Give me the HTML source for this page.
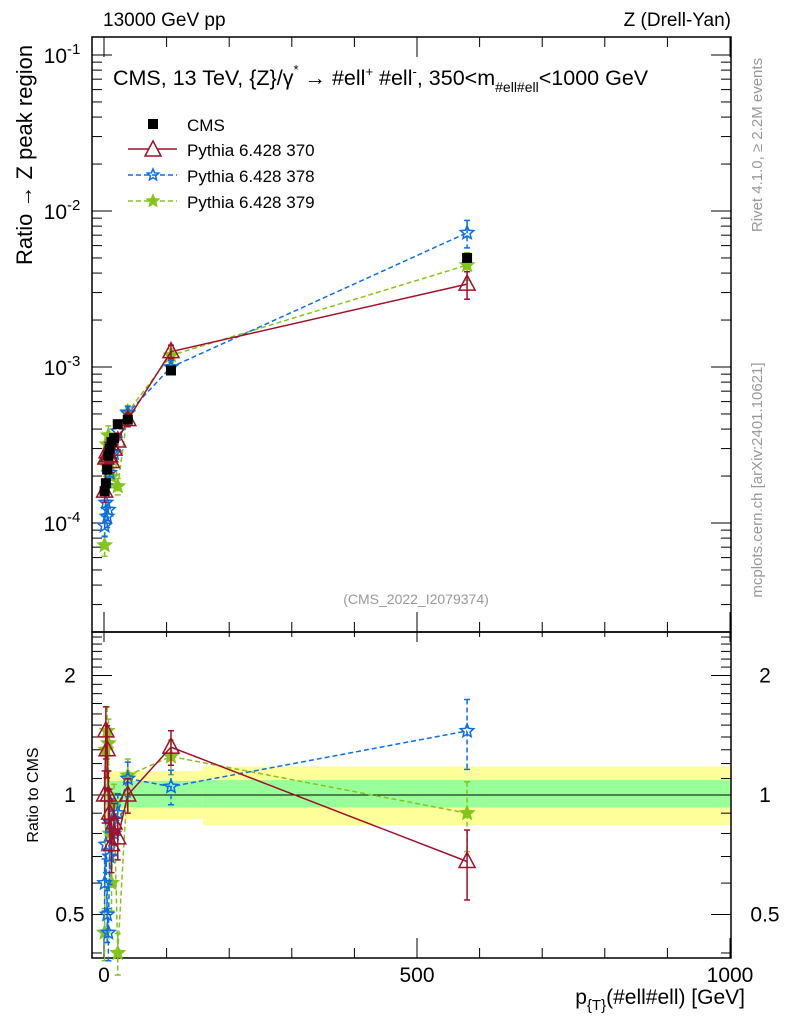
<!DOCTYPE html>
<html><head><meta charset="utf-8"><style>
body{margin:0;background:#fff;font-family:"Liberation Sans",sans-serif}
svg text{font-family:"Liberation Sans","DejaVu Sans",sans-serif}
</style></head><body>
<svg id="c" width="786" height="1024" xmlns="http://www.w3.org/2000/svg"></svg>
<script>
const xs=[1,3,5,7,9,12,16,22,38,107,580];
const cms=[1.6e-4,1.8e-4,2.2e-4,2.7e-4,3.0e-4,3.3e-4,3.5e-4,4.3e-4,4.6e-4,9.5e-4,5.0e-3];
const r370=[1.0,1.45,1.3,1.0,0.9,0.75,0.85,0.78,1.0,1.32,0.68];
const r378=[0.6,0.75,0.5,0.45,0.7,0.85,0.8,0.9,1.1,1.05,1.45];
const r379=[0.45,1.3,1.45,1.35,0.8,0.6,0.95,0.4,1.12,1.25,0.9];
const relErr=[0.15,0.15,0.15,0.15,0.15,0.15,0.12,0.12,0.1,0.1,0.2];
const bandEdges=[0,158,1000];
const bandYellowHi=[1.15,1.18],bandYellowLo=[0.87,0.84];
const bandGreenHi=[1.085,1.09],bandGreenLo=[0.93,0.93];
const xTicks=[0,500,1000];
const ratioTicks=[0.5,1,2];
const ratioTickLabels=["0.5","1","2"];

const NS="http://www.w3.org/2000/svg";const svg=document.getElementById('c');
function el(t,a,p){const e=document.createElementNS(NS,t);for(const k in a)e.setAttribute(k,a[k]);(p||svg).appendChild(e);return e;}
const L=92,R=731,T=37,M=632,B=958;
const X=v=>104+v*0.626;
const Y=v=>367-156*Math.log10(v/1e-3);
const YR=v=>795-397*Math.log10(v);
for(let i=0;i<2;i++){
 let r=el('rect',{x:X(bandEdges[i]),y:YR(bandYellowHi[i]),width:X(bandEdges[i+1])-X(bandEdges[i]),height:YR(bandYellowLo[i])-YR(bandYellowHi[i]),fill:'#ffff99'});
 
 r=el('rect',{x:X(bandEdges[i]),y:YR(bandGreenHi[i]),width:X(bandEdges[i+1])-X(bandEdges[i]),height:YR(bandGreenLo[i])-YR(bandGreenHi[i]),fill:'#99ff99'});
 
}
el('line',{x1:L,x2:R,y1:YR(1),y2:YR(1),stroke:'#000','stroke-width':1});
el('rect',{x:L,y:T,width:R-L,height:M-T,fill:'none',stroke:'#000','stroke-width':1.5});
el('rect',{x:L,y:M,width:R-L,height:B-M,fill:'none',stroke:'#000','stroke-width':1.5});
for(let d=-5;d<=-1;d++)for(let m=1;m<10;m++){const v=m*Math.pow(10,d);const y=Y(v);if(y<T||y>M)continue;const len=m==1?20:10;
 el('line',{x1:L,x2:L+len,y1:y,y2:y,stroke:'#000'});el('line',{x1:R,x2:R-len,y1:y,y2:y,stroke:'#000'});}
[-1,-2,-3,-4].forEach(d=>{const t=el('text',{x:62,y:Y(Math.pow(10,d))+8,'font-size':21,'text-anchor':'middle'});t.innerHTML='10<tspan dy="-9" font-size="15">'+d+'</tspan>';});
for(let v=0.4;v<=2.6;v+=0.1){const y=YR(v);if(y<M||y>B)continue;const big=Math.abs(v-0.5)<1e-6||Math.abs(v-1)<1e-6||Math.abs(v-2)<1e-6;const len=big?20:10;
 el('line',{x1:L,x2:L+len,y1:y,y2:y,stroke:'#000'});el('line',{x1:R,x2:R-len,y1:y,y2:y,stroke:'#000'});}
ratioTicks.forEach((v,i)=>{[70,765].forEach(x=>{const t=el('text',{x:x,y:YR(v)+7,'font-size':21,'text-anchor':'middle'});t.textContent=ratioTickLabels[i];});});
for(let v=0;v<=1000;v+=100){const big=v%500==0;const len=big?20:10;
 el('line',{x1:X(v),x2:X(v),y1:M,y2:M-len,stroke:'#000'});el('line',{x1:X(v),x2:X(v),y1:T,y2:T+len,stroke:'#000'});
 el('line',{x1:X(v),x2:X(v),y1:B,y2:B-len,stroke:'#000'});el('line',{x1:X(v),x2:X(v),y1:M,y2:M+len*0.5,stroke:'#000'});}
xTicks.forEach(v=>{const t=el('text',{x:X(v),y:982,'font-size':21,'text-anchor':'middle'});t.textContent=v;});
function star(cx,cy,r,col,g){let p='';for(let i=0;i<10;i++){const a=-Math.PI/2+i*Math.PI/5;const rr=i%2?r*0.45:r;p+=(cx+rr*Math.cos(a))+','+(cy+rr*Math.sin(a))+' ';}const s=el('polygon',{points:p,fill:col==='#0a6ee6'?'none':col,stroke:col,'stroke-width':1.5},g);}
function series(ratios,col,dash,mark,name){
 const g=el('g',{});
 const main=ratios.map((r,i)=>cms[i]*r);
 el('polyline',{points:xs.map((x,i)=>X(x)+','+Y(main[i])).join(' '),fill:'none',stroke:col,'stroke-width':1.5,'stroke-dasharray':dash},g);
 el('polyline',{points:xs.map((x,i)=>X(x)+','+YR(ratios[i])).join(' '),fill:'none',stroke:col,'stroke-width':1.5,'stroke-dasharray':dash},g);
 xs.forEach((x,i)=>{const e=relErr[i];
  [[Y,main[i]],[YR,ratios[i]]].forEach(([f,v])=>{
   el('line',{x1:X(x),x2:X(x),y1:f(v*(1+e)),y2:f(v*(1-e)),stroke:col,'stroke-width':1.5,'stroke-dasharray':dash},g);
   el('line',{x1:X(x)-3,x2:X(x)+3,y1:f(v*(1+e)),y2:f(v*(1+e)),stroke:col,'stroke-width':1.5},g);
   el('line',{x1:X(x)-3,x2:X(x)+3,y1:f(v*(1-e)),y2:f(v*(1-e)),stroke:col,'stroke-width':1.5},g);
   const cy=f(v),cx=X(x);
   if(mark==='tri'){const t=el('polygon',{points:`${cx},${cy-9} ${cx-8},${cy+6} ${cx+8},${cy+6}`,fill:'none',stroke:col,'stroke-width':1.5},g);}
   else star(cx,cy,7,col,g);
  });});
}
series(r379,'#84c51a','5,3','star','series-pythia-379');
series(r378,'#0a6ee6','5,3','star','series-pythia-378');
series(r370,'#a0102a','','tri','series-pythia-370');
const gd=el('g',{});
xs.forEach((x,i)=>{const r=el('rect',{x:X(x)-5,y:Y(cms[i])-5,width:10,height:10,fill:'#000'},gd);});
function txt(x,y,s,size,anchor,name,fill,extra){const t=el('text',Object.assign({x:x,y:y,'font-size':size,'text-anchor':anchor||'start',fill:fill||'#000'},extra||{}));t.innerHTML=s;return t;}
el('rect',{x:148,y:119,width:10,height:10,fill:'#000'});
txt(187,131,'CMS',17,'start','legend-entry-cms');
el('line',{x1:128,x2:177,y1:149,y2:149,stroke:'#a0102a','stroke-width':1.5});
el('polygon',{points:'153,141 145,156 161,156',fill:'#fff',stroke:'#a0102a','stroke-width':1.5});
txt(187,156,'Pythia 6.428 370',17,'start','legend-entry-370');
el('line',{x1:128,x2:177,y1:175,y2:175,stroke:'#0a6ee6','stroke-width':1.5,'stroke-dasharray':'5,3'});
star(153,175,6,'#0a6ee6',svg);
txt(187,182,'Pythia 6.428 378',17,'start','legend-entry-378');
el('line',{x1:128,x2:177,y1:201,y2:201,stroke:'#84c51a','stroke-width':1.5,'stroke-dasharray':'5,3'});
star(153,201,6,'#84c51a',svg);
txt(187,208,'Pythia 6.428 379',17,'start','legend-entry-379');
txt(103,26,'13000 GeV pp',19,'start','top-left-label');
txt(731,26,'Z (Drell-Yan)',19,'end','top-right-label');
txt(113,85,'CMS, 13 TeV, {Z}/γ<tspan dy="-11" font-size="13">*</tspan><tspan dy="11">  →  #ell</tspan><tspan dy="-9" font-size="13">+</tspan><tspan dy="9"> #ell</tspan><tspan dy="-9" font-size="13">-</tspan><tspan dy="9">, 350&lt;m</tspan><tspan dy="7" font-size="14">#ell#ell</tspan><tspan dy="-7">&lt;1000 GeV</tspan>',21.5,'start','plot-title');
txt(416,604,'(CMS_2022_I2079374)',14,'middle','analysis-id','#999');
txt(32,155,'Ratio → Z peak region',22,'middle','y-axis-title','#000',{transform:'rotate(-90 32 155)'});
txt(38,795,'Ratio to CMS',16,'middle','ratio-y-axis-title','#000',{transform:'rotate(-90 38 795)'});
txt(745,1004,'p<tspan dy="6" font-size="15">{T}</tspan><tspan dy="-6">(#ell#ell) [GeV]</tspan>',21,'end','x-axis-title');
txt(762,145,'Rivet 4.1.0, ≥ 2.2M events',15,'middle','rivet-label','#999',{transform:'rotate(-90 762 145)'});
txt(762,480,'mcplots.cern.ch [arXiv:2401.10621]',15,'middle','mcplots-label','#999',{transform:'rotate(-90 762 480)'});
</script>
</body></html>
